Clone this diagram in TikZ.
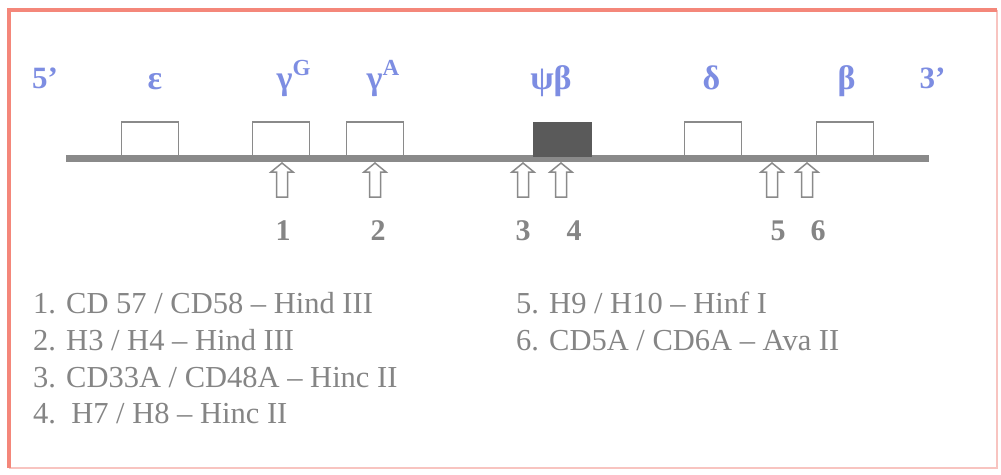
\documentclass[tikz,border=0pt]{standalone}
\usepackage{fontspec}
\setmainfont{Liberation Serif}
\definecolor{framecol}{HTML}{F4877A}
\definecolor{framesoft}{HTML}{F8C4C0}
\definecolor{genecol}{HTML}{7D8DE2}
\definecolor{inkcol}{HTML}{858585}
\definecolor{dnacol}{HTML}{8A8A8A}
\definecolor{pseudocol}{HTML}{5A5A5A}
\newcommand{\fsz}[1]{\fontsize{#1}{#1}\selectfont}
\tikzset{
  exon/.style={draw=dnacol, line width=1.8pt, fill=white, minimum width=57pt,
    minimum height=34pt, inner sep=0pt},
  pseudo/.style={exon, fill=pseudocol, draw=pseudocol},
  genelabel/.style={text=genecol, font=\fsz{34}\bfseries, anchor=base, inner sep=0pt},
  endlabel/.style={text=genecol, font=\fsz{31}\bfseries, anchor=base, inner sep=0pt},
  sitenum/.style={text=inkcol, font=\fsz{30}\bfseries, anchor=base, inner sep=0pt},
  legend/.style={text=inkcol, font=\fsz{30.5}, anchor=base west, inner sep=0pt},
  site/.pic={
    \draw[dnacol, line width=1.5pt, fill=white, line join=miter]
      (0,0) -- (11,9) -- (5.5,9) -- (5.5,34) -- (-5.5,34) -- (-5.5,9) -- (-11,9) -- cycle;
  }
}
\begin{document}
\begin{tikzpicture}[x=1pt, y=-1pt]
\useasboundingbox (0,0) rectangle (1001,474);
\fill[white] (0,0) rectangle (1001,474);

% frame: heavy top and left edges, faint right and bottom edges
\draw[framesoft, line width=2.5pt] (997,10) -- (997,468) -- (9,468);
\draw[framecol, line width=3.5pt] (9,468) -- (9,10) -- (997,10);

% chromosome
\coordinate (dnaL) at (66,158.5);
\coordinate (dnaR) at (929,158.5);
\draw[dnacol, line width=7pt] (dnaL) -- (dnaR);

% genes
\node[exon]   (eps)   at (150,139) {};
\node[exon]   (gG)    at (281,139) {};
\node[exon]   (gA)    at (375,139) {};
\node[pseudo] (psi)   at (562.5,139.5) {};
\node[exon]   (delta) at (713,139) {};
\node[exon]   (beta)  at (845,139) {};

% gene labels
\node[endlabel]  (five)  at (45,88) {5’};
\node[genelabel] (lEps)  at (155,89) {ε};
\node[genelabel] (lgG)   at (293.5,89) {γ\raisebox{0.4em}{\fsz{23}G}};
\node[genelabel] (lgA)   at (383,89) {γ\raisebox{0.4em}{\fsz{23}A}};
\node[genelabel] (lPsi)  at (551,89) {ψβ};
\node[genelabel] (lDel)  at (711.5,89) {δ};
\node[genelabel] (lBeta) at (846.5,89) {β};
\node[endlabel]  (three) at (932.5,88) {3’};

% restriction sites
\foreach \x in {282, 375, 523, 561, 772, 807}
  \pic at (\x,163) {site};

% site numbers
\node[sitenum] (n1) at (283,240) {1};
\node[sitenum] (n2) at (378,240) {2};
\node[sitenum] (n3) at (523,240) {3};
\node[sitenum] (n4) at (574,240) {4};
\node[sitenum] (n5) at (778,240) {5};
\node[sitenum] (n6) at (818,240) {6};

% legend
\node[legend] (k1) at (33,313) {1. CD 57 / CD58 – Hind III};
\node[legend] (k2) at (33,350) {2. H3 / H4 – Hind III};
\node[legend] (k3) at (33,387) {3. CD33A / CD48A – Hinc II};
\node[legend] (k4) at (33,423) {4.\ \ H7 / H8 – Hinc II};
\node[legend] (k5) at (516,313) {5. H9 / H10 – Hinf I};
\node[legend] (k6) at (516,350) {6. CD5A / CD6A – Ava II};
\end{tikzpicture}
\end{document}
